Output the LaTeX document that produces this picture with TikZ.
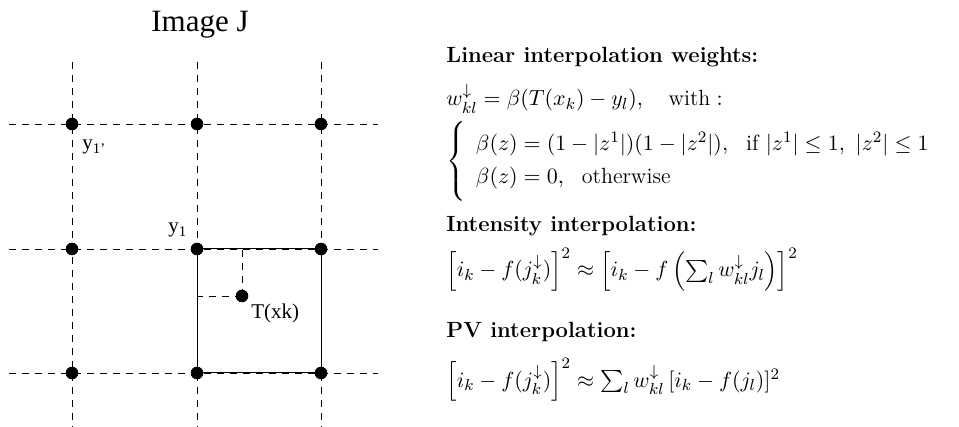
\documentclass[tikz,border=0pt]{standalone}
\usepackage{amsmath,amssymb}
\usepackage{fontspec}
\newfontfamily\timesfont{Liberation Serif}
\usetikzlibrary{positioning}

\begin{document}
\begin{tikzpicture}[x=0.5pt, y=-0.5pt,
  dot/.style={circle, fill=black, inner sep=0pt, minimum size=6.3pt},
  gridline/.style={dash pattern=on 3.5pt off 3pt, line width=0.4pt},
  lbl/.style={font=\timesfont\fontsize{10.5}{12}\selectfont, inner sep=0pt, anchor=base west},
  hd/.style={font=\fontsize{11}{13}\selectfont\bfseries, anchor=base west, inner sep=0pt},
  eq/.style={font=\fontsize{11}{13}\selectfont, anchor=base west, inner sep=0pt}]
\useasboundingbox (0,0) rectangle (959,427);
% Image J grid
\node[font=\timesfont\fontsize{15.5}{18}\selectfont, anchor=base, inner sep=0pt] (title) at (200,32) {Image J};
\foreach \x in {72,197,321} \draw[gridline] (\x,62) -- (\x,427);
\foreach \y in {124,249,373} \draw[gridline] (9,\y) -- (378,\y);
\foreach \x [count=\i] in {72,197,321}
  \foreach \y [count=\j] in {124,249,373}
    \node[dot] (d\i\j) at (\x,\y) {};
% cell around T(xk)
\draw[line width=0.5pt] (d22.center) -- (d32.center) -- (d33.center) -- (d23.center) -- cycle;
\node[dot] (t) at (242,296) {};
\draw[gridline] (t.center) -- (t.center -| d22.center);
\draw[gridline] (t.center) -- (t.center |- d22.center);
\node[lbl] (ylp) at (82,150) {y\textsubscript{1’}};
\node[lbl] (yl) at (168,233) {y\textsubscript{1}};
\node[lbl] (tlbl) at (251,319) {T(xk)};
% Formulas
\node[hd] (h1) at (446,63) {Linear interpolation weights:};
\node[eq] (w) at (446,106) {$w^{\downarrow}_{kl}=\beta(T(x_k)-y_l),\quad \mathrm{with}:$};
\node[eq] (beta) at (446,167) {$\left\{\vrule height 22.5pt depth 15pt width 0pt\begin{array}{l}
  \beta(z)=(1-|z^1|)(1-|z^2|),\ \ \mathrm{if}\ |z^1|\le 1,\ |z^2|\le 1\\[3.5pt]
  \beta(z)=0,\ \ \mathrm{otherwise}
  \end{array}\right.$};
\node[hd] (h2) at (446,232) {Intensity interpolation:};
\node[eq] (int) at (446,277) {$\Bigl[i_k-f(j^{\downarrow}_k)\Bigr]^2\approx\Bigl[i_k-f\,\Bigl(\sum_l w^{\downarrow}_{kl}j_l\Bigr)\Bigr]^2$};
\node[hd] (h3) at (446,337) {PV interpolation:};
\node[eq] (pv) at (446,387) {$\Bigl[i_k-f(j^{\downarrow}_k)\Bigr]^2\approx\sum_l w^{\downarrow}_{kl}\,[i_k-f(j_l)]^2$};
\end{tikzpicture}
\end{document}
